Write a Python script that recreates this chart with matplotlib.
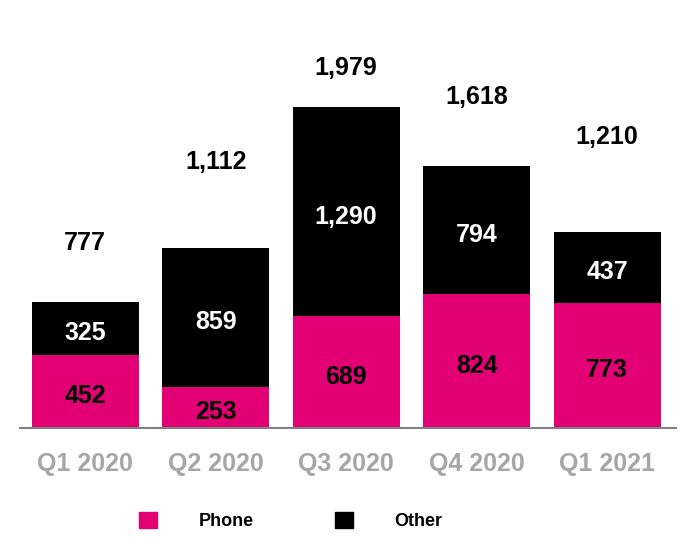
import matplotlib.pyplot as plt
from matplotlib.patches import Patch

quarters = ["Q1 2020", "Q2 2020", "Q3 2020", "Q4 2020", "Q1 2021"]
phone = [452, 253, 689, 824, 773]
other = [325, 859, 1290, 794, 437]
totals = [777, 1112, 1979, 1618, 1210]

# heights where the total labels sit (data units)
total_label_y = [1141, 1640, 2219, 2041, 1794]

MAGENTA = "#E20074"
GREY = "#A6A6A6"

plt.rcParams["font.family"] = ["Liberation Sans", "DejaVu Sans"]

fig = plt.figure(figsize=(6.9, 5.6), dpi=100)
ax = fig.add_axes([0.029, 0.2357, 0.951, 0.695])

x = list(range(len(quarters)))
w = 0.82
ax.bar(x, phone, width=w, color=MAGENTA)
ax.bar(x, other, width=w, bottom=phone, color="black")

for i in x:
    ax.text(i, phone[i] / 2 - 30, f"{phone[i]:,}", ha="center", va="center",
            fontsize=18, fontweight="bold", color="black")
    ax.text(i, phone[i] + other[i] / 2 - 30, f"{other[i]:,}", ha="center",
            va="center", fontsize=18, fontweight="bold", color="white")
    ax.text(i, total_label_y[i], f"{totals[i]:,}", ha="center", va="center",
            fontsize=18, fontweight="bold", color="black")

ax.set_xlim(-0.5, 4.53)
ax.set_ylim(0, 2400)
ax.set_xticks(x)
ax.set_xticklabels(quarters, fontsize=18, fontweight="bold", color=GREY)
ax.tick_params(axis="x", length=0, pad=17)
ax.set_yticks([])
for s in ["top", "right", "left"]:
    ax.spines[s].set_visible(False)
ax.spines["bottom"].set_color("#808080")
ax.spines["bottom"].set_linewidth(1.5)

handles = [Patch(color=MAGENTA, label="Phone"), Patch(color="black", label="Other")]
fig.legend(handles=handles, loc="center", bbox_to_anchor=(0.421, 0.069), ncol=2,
           frameon=False, handlelength=1.0, handleheight=1.0, handletextpad=2.3,
           columnspacing=4.5, prop={"size": 13, "weight": "bold"})

fig.savefig("out.png", dpi=100)
